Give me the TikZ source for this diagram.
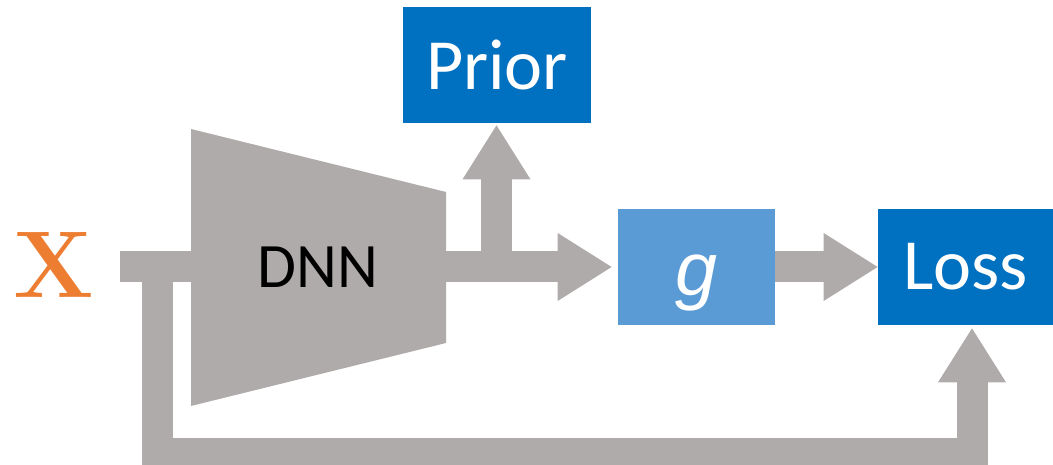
\documentclass[tikz,border=0pt]{standalone}
\usepackage{fontspec}
\setmainfont{Carlito}
\newfontfamily\serifx{Latin Modern Roman}
\newfontfamily\gfont{Liberation Sans}
\usetikzlibrary{arrows.meta}
\definecolor{flowgray}{HTML}{AFABAA}
\definecolor{boxblue}{HTML}{0070C0}
\definecolor{lightblue}{HTML}{5B9BD5}
\definecolor{xorange}{HTML}{ED7D31}
\begin{document}
\begin{tikzpicture}[line join=miter,
		flow/.style={draw=flowgray, line width=0.62cm},
		flowarrow/.style={flow, -{Triangle[length=1.08cm, width=1.36cm, line width=0pt]}},
		blockbox/.style={fill=boxblue, text=white, minimum height=2.32cm, inner sep=0pt, font=\fontsize{41}{41}\selectfont}]
	\def\ymid{3.96}
	\useasboundingbox (0,0) rectangle (21.06,9.3);
	\clip (0,0) rectangle (21.06,9.3);
	% input and network
	\node[text=xorange, font=\serifx\bfseries\fontsize{54}{54}\selectfont] (x) at (1.08,4.0) {X};
	\fill[flowgray] (3.82,6.72) -- (8.92,5.46) -- (8.92,2.44) -- (3.82,1.18) -- cycle;
	\node[font=\fontsize{36}{36}\selectfont] (dnn) at (6.36,\ymid) {DNN};
	% boxes
	\node[blockbox, minimum width=3.76cm] (prior) at (9.94,8.0) {Prior};
	\node[blockbox, fill=lightblue, minimum width=3.14cm, text height=1.14cm, text depth=0cm,
		font=\gfont\itshape\fontsize{43}{43}\selectfont] (g) at (13.93,\ymid) {g};
	\node[blockbox, minimum width=3.5cm] (loss) at (19.31,\ymid) {Loss};
	% flow
	\coordinate (in) at (2.4,\ymid);
	\coordinate (split) at (9.93,\ymid);
	\coordinate (fb) at (3.14,\ymid);
	\coordinate (fbl) at (3.14,0.22);
	\coordinate (fbr) at (19.44,0.22);
	\draw[flow] (in) -- (dnn.west);
	\draw[flowarrow] (dnn.east) -- ([xshift=-0.12cm]g.west);
	\draw[flowarrow] (split) -- ([yshift=-0.04cm]split |- prior.south);
	\draw[flowarrow] (g.east) -- (loss.west);
	\draw[flowarrow] (fb) -- (fbl) -- (fbr) -- ([yshift=-0.06cm]fbr |- loss.south);
\end{tikzpicture}
\end{document}
